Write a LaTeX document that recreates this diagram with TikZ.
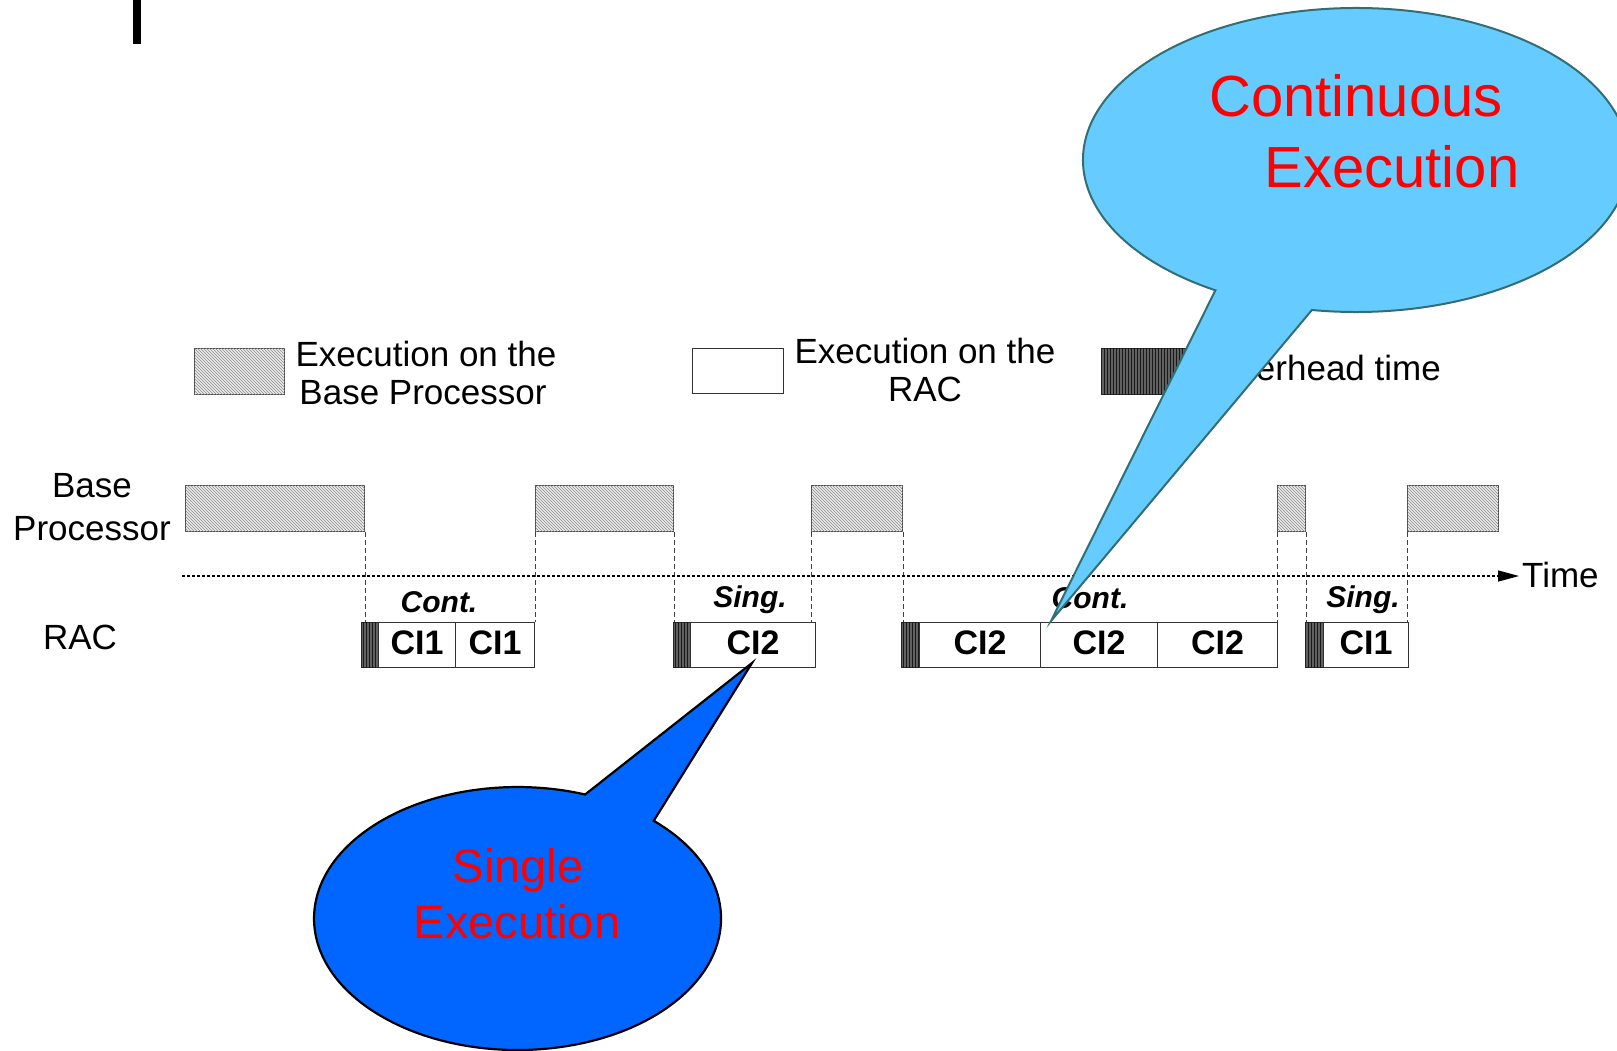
\documentclass[tikz,border=0pt]{standalone}
\usepackage{fontspec}
\setmainfont{Liberation Sans}
\usetikzlibrary{patterns,arrows.meta}

\definecolor{calloutlight}{RGB}{102,204,255}
\definecolor{calloutlightedge}{RGB}{50,110,115}
\definecolor{calloutdark}{RGB}{0,102,255}
\definecolor{calloutred}{RGB}{255,0,0}

\tikzset{
  lbl/.style={font=\fontsize{35}{42}\selectfont, inner sep=0pt},
  modelbl/.style={font=\fontsize{30}{36}\selectfont\bfseries\itshape, inner sep=0pt, anchor=base},
  bpbox/.style={draw=black!70, line width=1.2pt, fill=black!8,
    postaction={pattern=north west lines, pattern color=black!45},
    minimum height=46pt, inner sep=0pt, anchor=north west},
  racbox/.style={draw=black!80, line width=1.2pt, fill=white,
    minimum height=45pt, inner sep=0pt, anchor=north west,
    font=\fontsize{34}{40}\selectfont\bfseries, text height=24pt, text depth=5pt},
  ohbox/.style={draw=black!85, line width=1.2pt, fill=black!62,
    postaction={pattern=vertical lines, pattern color=black!90},
    minimum height=45pt, inner sep=0pt, anchor=north west},
  guide/.style={draw=black!75, line width=1pt, dash pattern=on 5pt off 3pt},
  timeline/.style={draw=black, line width=1.4pt, dash pattern=on 3pt off 2pt},
  bigtxt/.style={font=\fontsize{58}{70}\selectfont, text=calloutred, inner sep=0pt, anchor=base},
  midtxt/.style={font=\fontsize{47}{56}\selectfont, text=calloutred, inner sep=0pt, anchor=base},
}

\begin{document}
\begin{tikzpicture}[x=1pt, y=-1pt]
\useasboundingbox (0,0) rectangle (1617,1051);
\clip (0,0) rectangle (1617,1051);
\fill[white] (0,0) rectangle (1617,1051);

% small black bar in the top left corner
\fill[black] (133,0) rectangle (141,44);

% legend
\node[bpbox, minimum width=90pt] (lg1) at (194,348) {};
\node[lbl, anchor=base] (lg1a) at (426,366) {Execution on the};
\node[lbl, anchor=base] (lg1b) at (423,404) {Base Processor};
\node[racbox, minimum width=91pt] (lg2) at (692,348) {};
\node[lbl, anchor=base] (lg2a) at (925,363) {Execution on the};
\node[lbl, anchor=base] (lg2b) at (925,401) {RAC};
\node[ohbox, minimum width=92pt, minimum height=46pt] (lg3) at (1101,348) {};
\node[lbl, anchor=base east] (lg3a) at (1441,380) {Overhead time};

% row labels
\node[lbl, anchor=base] (bp1) at (92,497) {Base};
\node[lbl, anchor=base] (bp2) at (92,540) {Processor};
\node[lbl, anchor=base] (raclbl) at (80,649) {RAC};

% base processor activity
\node[bpbox, minimum width=179pt] (b1) at (185,485) {};
\node[bpbox, minimum width=138pt] (b2) at (535,485) {};
\node[bpbox, minimum width=91pt]  (b3) at (811,485) {};
\node[bpbox, minimum width=28pt]  (b4) at (1277,485) {};
\node[bpbox, minimum width=91pt]  (b5) at (1407,485) {};

% RAC activity
\node[ohbox, minimum width=17pt]  (o1)  at (361,622) {};
\node[racbox, minimum width=77pt] (c1a) at (378,622) {CI1};
\node[racbox, minimum width=79pt] (c1b) at (455,622) {CI1};
\node[ohbox, minimum width=17pt]  (o2)  at (673,622) {};
\node[racbox, minimum width=125pt] (c2) at (690,622) {CI2};
\node[ohbox, minimum width=18pt]  (o3)  at (901,622) {};
\node[racbox, minimum width=121pt] (c3a) at (919,622) {CI2};
\node[racbox, minimum width=117pt] (c3b) at (1040,622) {CI2};
\node[racbox, minimum width=120pt] (c3c) at (1157,622) {CI2};
\node[ohbox, minimum width=18pt]  (o4)  at (1305,622) {};
\node[racbox, minimum width=85pt] (c4)  at (1323,622) {CI1};

% hand-over guides
\draw[guide] (b1.south east) -- (b1.south east |- o1.north);
\draw[guide] (b2.south west) -- (b2.south west |- c1b.north);
\draw[guide] (b2.south east) -- (b2.south east |- o2.north);
\draw[guide] (b3.south west) -- (b3.south west |- c2.north);
\draw[guide] (b3.south east) -- (b3.south east |- o3.north);
\draw[guide] (b4.south west) -- (b4.south west |- c3c.north);
\draw[guide] (b4.south east) -- (b4.south east |- o4.north);
\draw[guide] (b5.south west) -- (b5.south west |- c4.north);

% time axis
\coordinate (t0) at (182,576);
\coordinate (t1) at (1519,576);
\draw[timeline, -{Triangle[length=21pt,width=11pt]}] (t0) -- (t1);
\node[lbl, anchor=base west] (tlbl) at (1522,587) {Time};

% execution modes
\node[modelbl] (m1) at (439,612) {Cont.};
\node[modelbl] (m2) at (750,607) {Sing.};
\node[modelbl] (m3) at (1090,608) {Cont.};
\node[modelbl] (m4) at (1363,607) {Sing.};

% callout: continuous execution
\draw[fill=calloutlight, draw=calloutlightedge, line width=2pt, line join=miter]
  (1215.4,290.3) arc[start angle=121, end angle=459.3, x radius=273, y radius=152]
  -- (1051,621) -- cycle;
\node[bigtxt] (ce1) at (1356,117) {Continuous};
\node[bigtxt] (ce2) at (1392,188) {Execution};

% callout: single execution
\draw[fill=calloutdark, draw=black, line width=2.2pt, line join=miter]
  (653.7,820.8) arc[start angle=-48, end angle=289.4, x radius=203.5, y radius=131.5]
  -- (752,663) -- cycle;
\node[midtxt] (se1) at (518,882) {Single};
\node[midtxt] (se2) at (517,938) {Execution};
\end{tikzpicture}
\end{document}
